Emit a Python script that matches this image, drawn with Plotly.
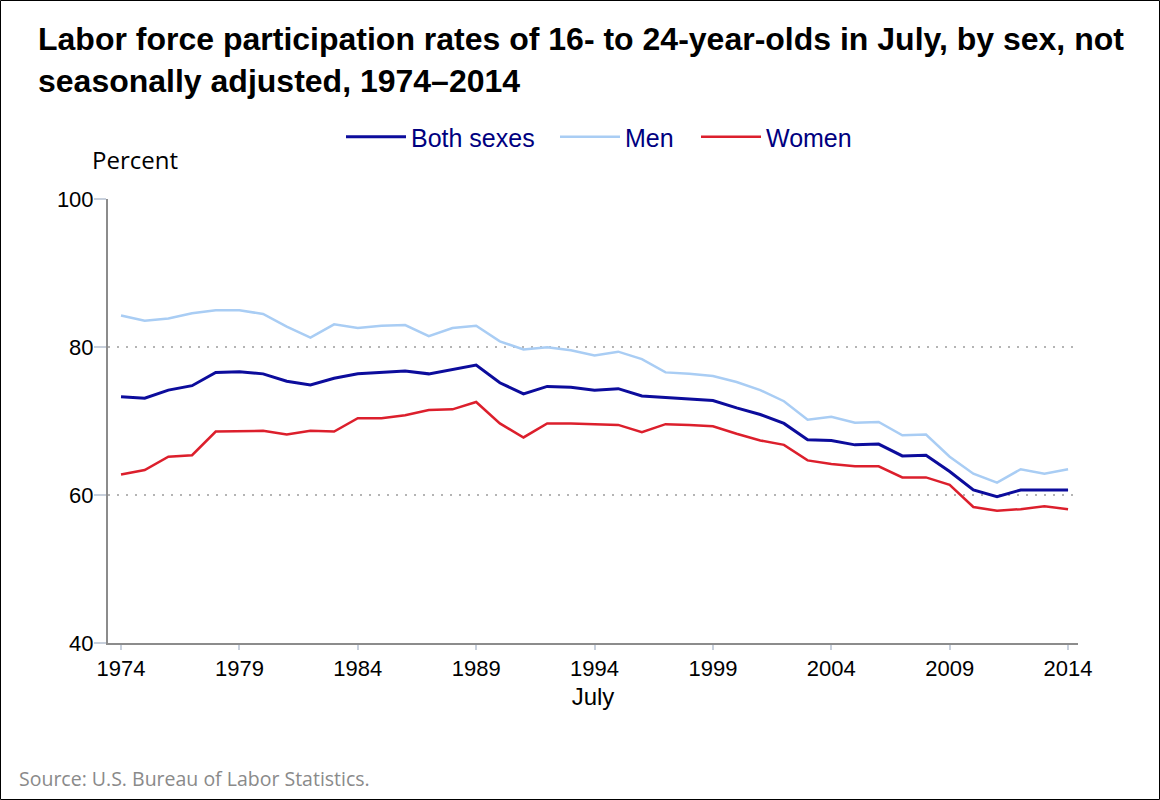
import plotly.graph_objects as go

years = list(range(1974, 2015))

both_sexes = [73.3, 73.1, 74.2, 74.8, 76.6, 76.7, 76.4, 75.4, 74.9, 75.8,
              76.4, 76.6, 76.8, 76.4, 77.0, 77.6, 75.2, 73.7, 74.7, 74.6,
              74.2, 74.4, 73.4, 73.2, 73.0, 72.8, 71.8, 70.9, 69.7, 67.5,
              67.4, 66.8, 66.9, 65.3, 65.4, 63.2, 60.7, 59.8, 60.7, 60.7, 60.7]

men = [84.3, 83.6, 83.9, 84.6, 85.0, 85.0, 84.5, 82.8, 81.3, 83.1,
       82.6, 82.9, 83.0, 81.5, 82.6, 82.9, 80.8, 79.7, 80.0, 79.6,
       78.9, 79.4, 78.4, 76.6, 76.4, 76.1, 75.3, 74.2, 72.7, 70.2,
       70.6, 69.8, 69.9, 68.1, 68.2, 65.2, 62.9, 61.7, 63.5, 62.9, 63.5]

women = [62.8, 63.4, 65.2, 65.4, 68.6, 68.6, 68.7, 68.2, 68.7, 68.6,
         70.4, 70.4, 70.8, 71.5, 71.6, 72.6, 69.7, 67.8, 69.7, 69.7,
         69.6, 69.5, 68.5, 69.6, 69.5, 69.3, 68.3, 67.4, 66.8, 64.7,
         64.2, 63.9, 63.9, 62.4, 62.4, 61.4, 58.4, 57.9, 58.1, 58.5, 58.1]

x_ticks = [1974, 1979, 1984, 1989, 1994, 1999, 2004, 2009, 2014]
y_ticks = [40, 60, 80, 100]

W, H = 1160, 800
L, R, T, B = 108, 82, 199, 157
pw, ph = W - L - R, H - T - B

def px(xp):
    return (xp - L) / pw

def py(yp):
    return (H - B - yp) / ph

narrow = "Liberation Sans Narrow, Arial Narrow, Liberation Sans, sans-serif"
arial = "Liberation Sans, Arial, sans-serif"

fig = go.Figure()
fig.add_trace(go.Scatter(x=years, y=both_sexes, mode="lines", name="Both sexes",
                         line=dict(color="#0c0c9c", width=3), legend="legend"))
fig.add_trace(go.Scatter(x=years, y=men, mode="lines", name="Men",
                         line=dict(color="#a9cdf4", width=2.5), legend="legend2"))
fig.add_trace(go.Scatter(x=years, y=women, mode="lines", name="Women",
                         line=dict(color="#dc1f2c", width=2.5), legend="legend3"))

legfont = dict(family=arial, size=25, color="#000080")

def leg(xpix):
    return dict(orientation="h", x=px(xpix), xanchor="left", y=py(137), yanchor="middle",
                font=legfont, itemwidth=60, bgcolor="rgba(0,0,0,0)")

fig.update_layout(
    width=W, height=H,
    margin=dict(l=L, r=R, t=T, b=B),
    paper_bgcolor="white", plot_bgcolor="white",
    title=dict(
        text="Labor force participation rates of 16- to 24-year-olds in July, by sex, not<br>seasonally adjusted, 1974–2014",
        font=dict(family=arial, size=32, color="black", weight="bold"),
        xref="container", yref="container", x=38 / W, xanchor="left",
        y=1 - 50 / H, yanchor="top",
    ),
    showlegend=True,
    legend=leg(341),
    legend2=leg(555),
    legend3=leg(696),
    xaxis=dict(range=[1973.45, 2014.42], tickvals=x_ticks, ticktext=[str(v) for v in x_ticks],
               showgrid=False, zeroline=False, showline=True, linecolor="#8c8c8c", linewidth=2,
               ticks="outside", ticklen=5, tickcolor="#c8d0dc", tickwidth=2,
               tickfont=dict(family=narrow, size=22, color="black"),
               title=dict(text="July", font=dict(family=narrow, size=24, color="black"), standoff=8)),
    yaxis=dict(range=[40, 100.05], tickvals=y_ticks, ticktext=[str(v) for v in y_ticks],
               showgrid=True, gridcolor="#b4b4b4", gridwidth=2, griddash="2px,7px",
               zeroline=False, showline=True, linecolor="#8c8c8c", linewidth=2,
               ticks="outside", ticklen=12, tickcolor="#c8d0dc", tickwidth=2,
               ticklabelstandoff=-4,
               tickfont=dict(family=narrow, size=22, color="black")),
    annotations=[
        dict(text="Percent", xref="paper", yref="paper", x=px(90), y=py(160),
             xanchor="left", yanchor="middle", showarrow=False,
             font=dict(family="Open Sans, Noto Sans, sans-serif", size=24, color="black")),
        dict(text="Source: U.S. Bureau of Labor Statistics.", xref="paper", yref="paper",
             x=px(17), y=py(778), xanchor="left", yanchor="middle", showarrow=False,
             font=dict(family="Open Sans, Noto Sans, sans-serif", size=19.5, color="#8a8a8a")),
    ],
    shapes=[
        dict(type="rect", xref="paper", yref="paper", x0=px(0.5), x1=px(W - 0.5),
             y0=py(H - 0.5), y1=py(0.5), line=dict(color="black", width=1), layer="above"),
    ],
)

fig.write_html("out.html", config={"displayModeBar": False},
               post_script="document.body.style.margin='0px';document.body.style.overflow='hidden';")
